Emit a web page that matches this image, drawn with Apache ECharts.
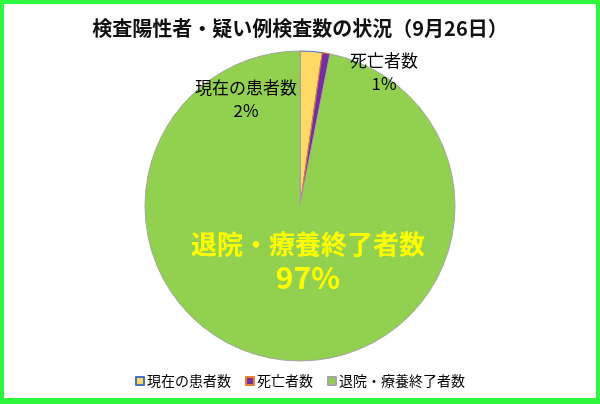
<!DOCTYPE html>
<html>
<head>
<meta charset="utf-8">
<script src="https://cdn.jsdelivr.net/npm/echarts@6/dist/echarts.min.js"></script>
<style>
html,body{margin:0;padding:0;background:#fff;}
#chart{width:600px;height:404px;}
</style>
</head>
<body>
<div id="chart"></div>
<script>
const titleText = '検査陽性者・疑い例検査数の状況（9月26日）';
const categories = ['現在の患者数', '死亡者数', '退院・療養終了者数'];
const values = [2.3, 0.8, 96.9];
const fills = ['#ffd966', '#7030a0', '#92d050'];
const borders = ['#4472c4', '#ed7d31', '#a5a5a5'];

const labelSpots = [
  {x: 246, y: 99},
  {x: 384, y: 72},
  {x: 308, y: 261}
];

const chart = echarts.init(document.getElementById('chart'), null, {renderer: 'canvas'});
const font = '"Noto Sans CJK JP", "Noto Sans", sans-serif';

chart.setOption({
  backgroundColor: '#2ef83e',
  animation: false,
  graphic: [{
    type: 'rect', z: -10, silent: true,
    shape: {x: 4, y: 4, width: 592, height: 394},
    style: {fill: '#ffffff'}
  }],
  title: {
    text: titleText,
    left: 'center',
    top: 13,
    textStyle: {fontFamily: font, fontSize: 20, fontWeight: 'bold', color: '#111'}
  },
  legend: {
    data: categories,
    bottom: 11,
    left: 'center',
    icon: 'rect',
    itemWidth: 8,
    itemHeight: 8,
    itemGap: 14,
    textStyle: {fontFamily: font, fontSize: 14, color: '#000', padding: [0, 0, 0, -2]}
  },
  series: [{
    type: 'pie',
    center: [300, 206],
    radius: 155,
    startAngle: 90,
    clockwise: true,
    percentPrecision: 0,
    avoidLabelOverlap: false,
    labelLine: {show: false},
    data: categories.map((c, i) => ({
      name: c,
      value: values[i],
      itemStyle: {color: fills[i], borderColor: borders[i], borderWidth: 1},
      label: i === 2 ? {
        formatter: '{n|{b}}\n{p|{d}%}',
        rich: {
          n: {fontFamily: font, fontSize: 26, fontWeight: 'bold', color: '#ffff00', lineHeight: 34, align: 'center'},
          p: {fontFamily: font, fontSize: 30, fontWeight: 'bold', color: '#ffff00', lineHeight: 34, align: 'center'}
        }
      } : {
        formatter: '{b}\n{d}%',
        fontFamily: font, fontSize: 17, color: '#000', lineHeight: 23, align: 'center'
      }
    })),
    label: {show: true, position: 'inside'},
    labelLayout: function (p) {
      const s = labelSpots[p.dataIndex];
      return {x: s.x, y: s.y, align: 'center', verticalAlign: 'middle'};
    }
  }]
});
</script>
</body>
</html>
